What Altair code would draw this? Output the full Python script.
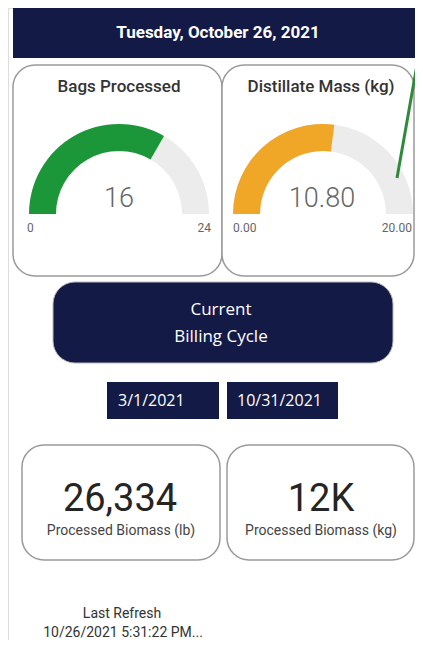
import math
import altair as alt
import pandas as pd

# ---------------- data ----------------
header_text = ["Tuesday, October 26, 2021"]
gauge_titles = ["Bags Processed", "Distillate Mass (kg)"]
gauge_values = [16, 10.80]
gauge_max = [24, 20]
gauge_value_labels = ["16", "10.80"]
gauge_min_labels = ["0", "0.00"]
gauge_max_labels = ["24", "20.00"]
billing_lines = ["Current", "Billing Cycle"]
billing_dates = ["3/1/2021", "10/31/2021"]
kpi_values = ["26,334", "12K"]
kpi_labels = ["Processed Biomass (lb)", "Processed Biomass (kg)"]
refresh_lines = ["Last Refresh", "10/26/2021 5:31:22 PM..."]

NAVY = "#141a46"
FONT = "Roboto"
FONT2 = "Open Sans"

# ---------------- layout (page pixel coordinates) ----------------
XS = alt.Scale(domain=[8, 415], nice=False, zero=False)
YS = alt.Scale(domain=[640, 8], nice=False, zero=False)

def X(f):
    return alt.X(f, type="quantitative", scale=XS, axis=None)

def Y(f):
    return alt.Y(f, type="quantitative", scale=YS, axis=None)

header_df = pd.DataFrame({"x": [13], "x2": [423], "y": [6], "y2": [58], "t": header_text, "tx": [218], "ty": [33]})

cards_df = pd.DataFrame({
    "x": [13, 222, 22, 227], "x2": [222, 414, 220, 414],
    "y": [65, 65, 445, 445], "y2": [276, 276, 560, 560],
})

billing_box = pd.DataFrame({"x": [53], "x2": [393], "y": [282], "y2": [363]})
date_boxes = pd.DataFrame({"x": [107, 227], "x2": [219, 338], "y": [382, 382], "y2": [419, 419],
                           "t": billing_dates, "tx": [118, 237], "ty": [401, 401]})

gauge_cx = [119, 323]
gauge_cy = [214, 214]
gauge_df = pd.DataFrame({
    "cx": gauge_cx, "cy": gauge_cy,
    "value": gauge_values, "max": gauge_max,
    "color": ["#1b9639", "#f0a626"],
})
gauge_df["frac"] = gauge_df["value"] / gauge_df["max"]
gauge_df["zero"] = 0.0
gauge_df["one"] = 1.0

TH = alt.Scale(domain=[0, 1], range=[-math.pi / 2, math.pi / 2])

bg_arc = alt.Chart(gauge_df).mark_arc(radius=90, radius2=63, color="#ececec").encode(
    x=X("cx"), y=Y("cy"),
    theta=alt.Theta("zero:Q", scale=TH), theta2="one:Q",
)
fg_arc = alt.Chart(gauge_df).mark_arc(radius=90, radius2=63).encode(
    x=X("cx"), y=Y("cy"),
    theta=alt.Theta("zero:Q", scale=TH), theta2="frac:Q",
    color=alt.Color("color:N", scale=None),
)

titles_df = pd.DataFrame({"t": gauge_titles, "x": [119, 321], "y": [87, 87]})
vals_df = pd.DataFrame({"t": gauge_value_labels, "x": [119, 322], "y": [199, 199]})
mins_df = pd.DataFrame({"t": gauge_min_labels, "x": [27, 233], "y": [228, 228]})
maxs_df = pd.DataFrame({"t": gauge_max_labels, "x": [211, 412], "y": [228, 228]})
billing_df = pd.DataFrame({"t": billing_lines, "x": [221, 221], "y": [310, 337]})
kpi_df = pd.DataFrame({"t": kpi_values, "x": [120, 321], "y": [500, 500]})
kpil_df = pd.DataFrame({"t": kpi_labels, "x": [121, 321], "y": [531, 531]})
refresh_df = pd.DataFrame({"t": refresh_lines, "x": [122, 123], "y": [614, 633]})
line_df = pd.DataFrame({"x": [423], "x2": [397], "y": [31], "y2": [178]})

def rects(df, **kw):
    return alt.Chart(df).mark_rect(**kw).encode(x=X("x"), x2="x2", y=Y("y"), y2="y2")

def texts(df, xf="x", yf="y", **kw):
    return alt.Chart(df).mark_text(**kw).encode(x=X(xf), y=Y(yf), text="t:N")

layers = [
    rects(header_df, color=NAVY),
    texts(header_df, "tx", "ty", font=FONT, fontSize=17, fontWeight="bold", color="white"),
    rects(cards_df, fill="white", stroke="#9a9a9a", strokeWidth=1.5, cornerRadius=22),
    rects(billing_box, fill=NAVY, stroke="#b8b8b8", strokeWidth=1, cornerRadius=22),
    rects(date_boxes, color=NAVY),
    texts(date_boxes, "tx", "ty", font=FONT2, fontSize=16, color="white", align="left"),
    bg_arc,
    fg_arc,
    texts(titles_df, font=FONT, fontSize=17, fontWeight=500, color="#333333"),
    texts(vals_df, font=FONT, fontSize=27, fontWeight=300, color="#666666"),
    texts(mins_df, font=FONT, fontSize=12, color="#666666", align="left"),
    texts(maxs_df, font=FONT, fontSize=12, color="#666666", align="right"),
    texts(billing_df, font=FONT2, fontSize=17, color="white"),
    texts(kpi_df, font=FONT, fontSize=38, color="#252525"),
    texts(kpil_df, font=FONT, fontSize=14, color="#444444"),
    texts(refresh_df, font=FONT, fontSize=14, color="#333333"),
    alt.Chart(line_df).mark_rule(color="#2f8a3a", strokeWidth=3).encode(
        x=X("x"), x2="x2", y=Y("y"), y2="y2"),
]

chart = alt.layer(*layers).properties(
    width=407, height=632, padding=0,
    autosize=alt.AutoSizeParams(type="none"),
).configure_view(stroke=None).configure(background="white")

chart.save("out.html", embed_options={"renderer": "svg", "actions": False})
